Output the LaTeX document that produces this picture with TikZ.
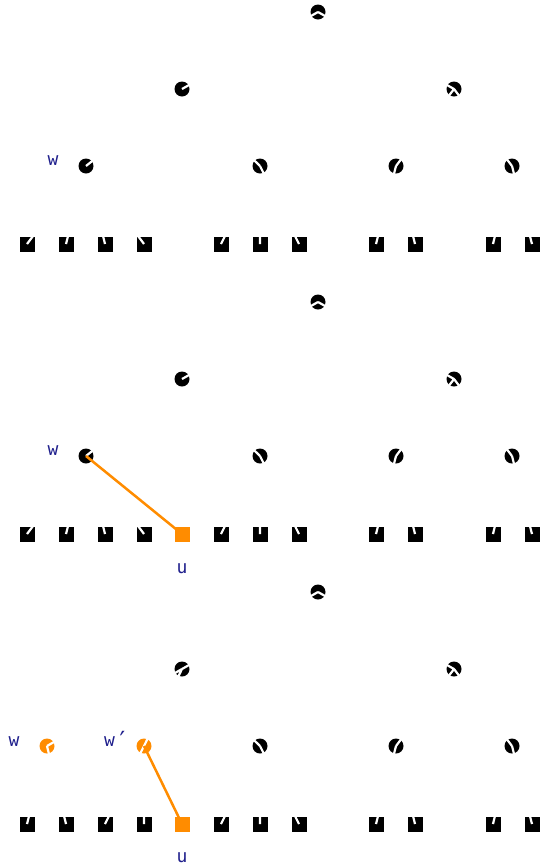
\documentclass[tikz,border=0pt]{standalone}
\usepackage{fontspec}
\newfontfamily\labelfont{DejaVu Sans Mono}
\definecolor{HiClr}{rgb}{1,0.549,0}
\definecolor{LabelClr}{rgb}{0.12,0.12,0.55}
\tikzset{
  leafbox/.style={rectangle,fill=#1,inner sep=0pt,minimum size=15pt},
  leafbox/.default=black,
  treeedge/.style={white,line width=2.2pt},
  hiedge/.style={HiClr,line width=2.5pt},
  lbl/.style={text=LabelClr,font=\labelfont\fontsize{18}{20}\selectfont,inner sep=0pt,anchor=base}
}

\begin{document}
\begin{tikzpicture}[x=1pt,y=-1pt]
\useasboundingbox (0,0) rectangle (539,868);

% the tree before and after u is added
\foreach \p/\dy in {1/0,2/290}{
\begin{scope}[yshift=-\dy pt]
\coordinate (R\p) at (318,12);
\coordinate (A\p) at (182,89);
\coordinate (B\p) at (454,89);
\coordinate (W\p) at (86,166);
\coordinate (C\p) at (260,166);
\coordinate (D\p) at (396,166);
\coordinate (E\p) at (512,166);
\foreach \x [count=\i] in {27,66,105,144} \coordinate (W\p-\i) at (\x,244);
\foreach \x [count=\i] in {221,260,299} \coordinate (C\p-\i) at (\x,244);
\foreach \x [count=\i] in {376,415} \coordinate (D\p-\i) at (\x,244);
\foreach \x [count=\i] in {493,532} \coordinate (E\p-\i) at (\x,244);

% leaves, then the edges that the inner nodes hide
\foreach \l in {W\p-1,W\p-2,W\p-3,W\p-4,C\p-1,C\p-2,C\p-3,D\p-1,D\p-2,E\p-1,E\p-2}
  \node[leafbox] at (\l) {};
\foreach \i in {1,...,4} \draw[treeedge] (W\p-\i) -- (W\p);
\draw[treeedge] (C\p-1) -- (C\p) (C\p-2) -- (C\p) (D\p-2) -- (D\p) (E\p-1) -- (E\p);
\fill (W\p) circle (7.5pt) (C\p) circle (7.5pt) (D\p) circle (7.5pt) (E\p) circle (7.5pt);
\draw[treeedge] (C\p-3) -- (C\p) (D\p-1) -- (D\p) (E\p-2) -- (E\p);
\draw[treeedge] (W\p) -- (A\p) (C\p) -- (A\p);
\fill (R\p) circle (7.5pt) (A\p) circle (7.5pt) (B\p) circle (7.5pt);
\draw[treeedge] (D\p) -- (B\p) (E\p) -- (B\p) (A\p) -- (R\p) (B\p) -- (R\p);

\node[lbl] (w\p) at (53,165) {w};
\end{scope}
}

% u hangs below w
\coordinate (U2) at (182,534);
\node[leafbox=HiClr] at (U2) {};
\draw[hiedge] (W2) -- (U2);
\node[lbl] (u2) at (182,573) {u};

% w split into w and w'
\begin{scope}[yshift=-580pt]
\coordinate (R3) at (318,12);
\coordinate (A3) at (182,89);
\coordinate (B3) at (454,89);
\coordinate (W3) at (47,166);
\coordinate (V3) at (144,166);
\coordinate (C3) at (260,166);
\coordinate (D3) at (396,166);
\coordinate (E3) at (512,166);
\foreach \x [count=\i] in {27,66} \coordinate (W3-\i) at (\x,244);
\foreach \x [count=\i] in {105,144} \coordinate (V3-\i) at (\x,244);
\coordinate (U3) at (182,244);
\foreach \x [count=\i] in {221,260,299} \coordinate (C3-\i) at (\x,244);
\foreach \x [count=\i] in {376,415} \coordinate (D3-\i) at (\x,244);
\foreach \x [count=\i] in {493,532} \coordinate (E3-\i) at (\x,244);
\end{scope}

\foreach \l in {W3-1,W3-2,V3-1,V3-2,C3-1,C3-2,C3-3,D3-1,D3-2,E3-1,E3-2}
  \node[leafbox] at (\l) {};
\node[leafbox=HiClr] at (U3) {};
\draw[treeedge] (W3-1) -- (W3) (V3-2) -- (V3);
\draw[treeedge] (C3-1) -- (C3) (C3-2) -- (C3) (D3-2) -- (D3) (E3-1) -- (E3);
\fill (C3) circle (7.5pt) (D3) circle (7.5pt) (E3) circle (7.5pt);
\draw[treeedge] (C3-3) -- (C3) (D3-1) -- (D3) (E3-2) -- (E3);
\draw[treeedge] (C3) -- (A3);
\fill (R3) circle (7.5pt) (A3) circle (7.5pt) (B3) circle (7.5pt);
\draw[treeedge] (D3) -- (B3) (E3) -- (B3) (A3) -- (R3) (B3) -- (R3);
\fill[HiClr] (W3) circle (7.5pt) (V3) circle (7.5pt);
\draw[treeedge] (W3-2) -- (W3) (V3-1) -- (V3) (W3) -- (A3) (V3) -- (A3);
\draw[hiedge] (V3) -- (U3);

\node[lbl] (w3) at (14,746) {w};
\node[lbl] (v3) at (117,746) {w\raisebox{-3pt}{\fontsize{25}{25}\selectfont′}};
\node[lbl] (u3) at (182,862) {u};

\end{tikzpicture}
\end{document}
